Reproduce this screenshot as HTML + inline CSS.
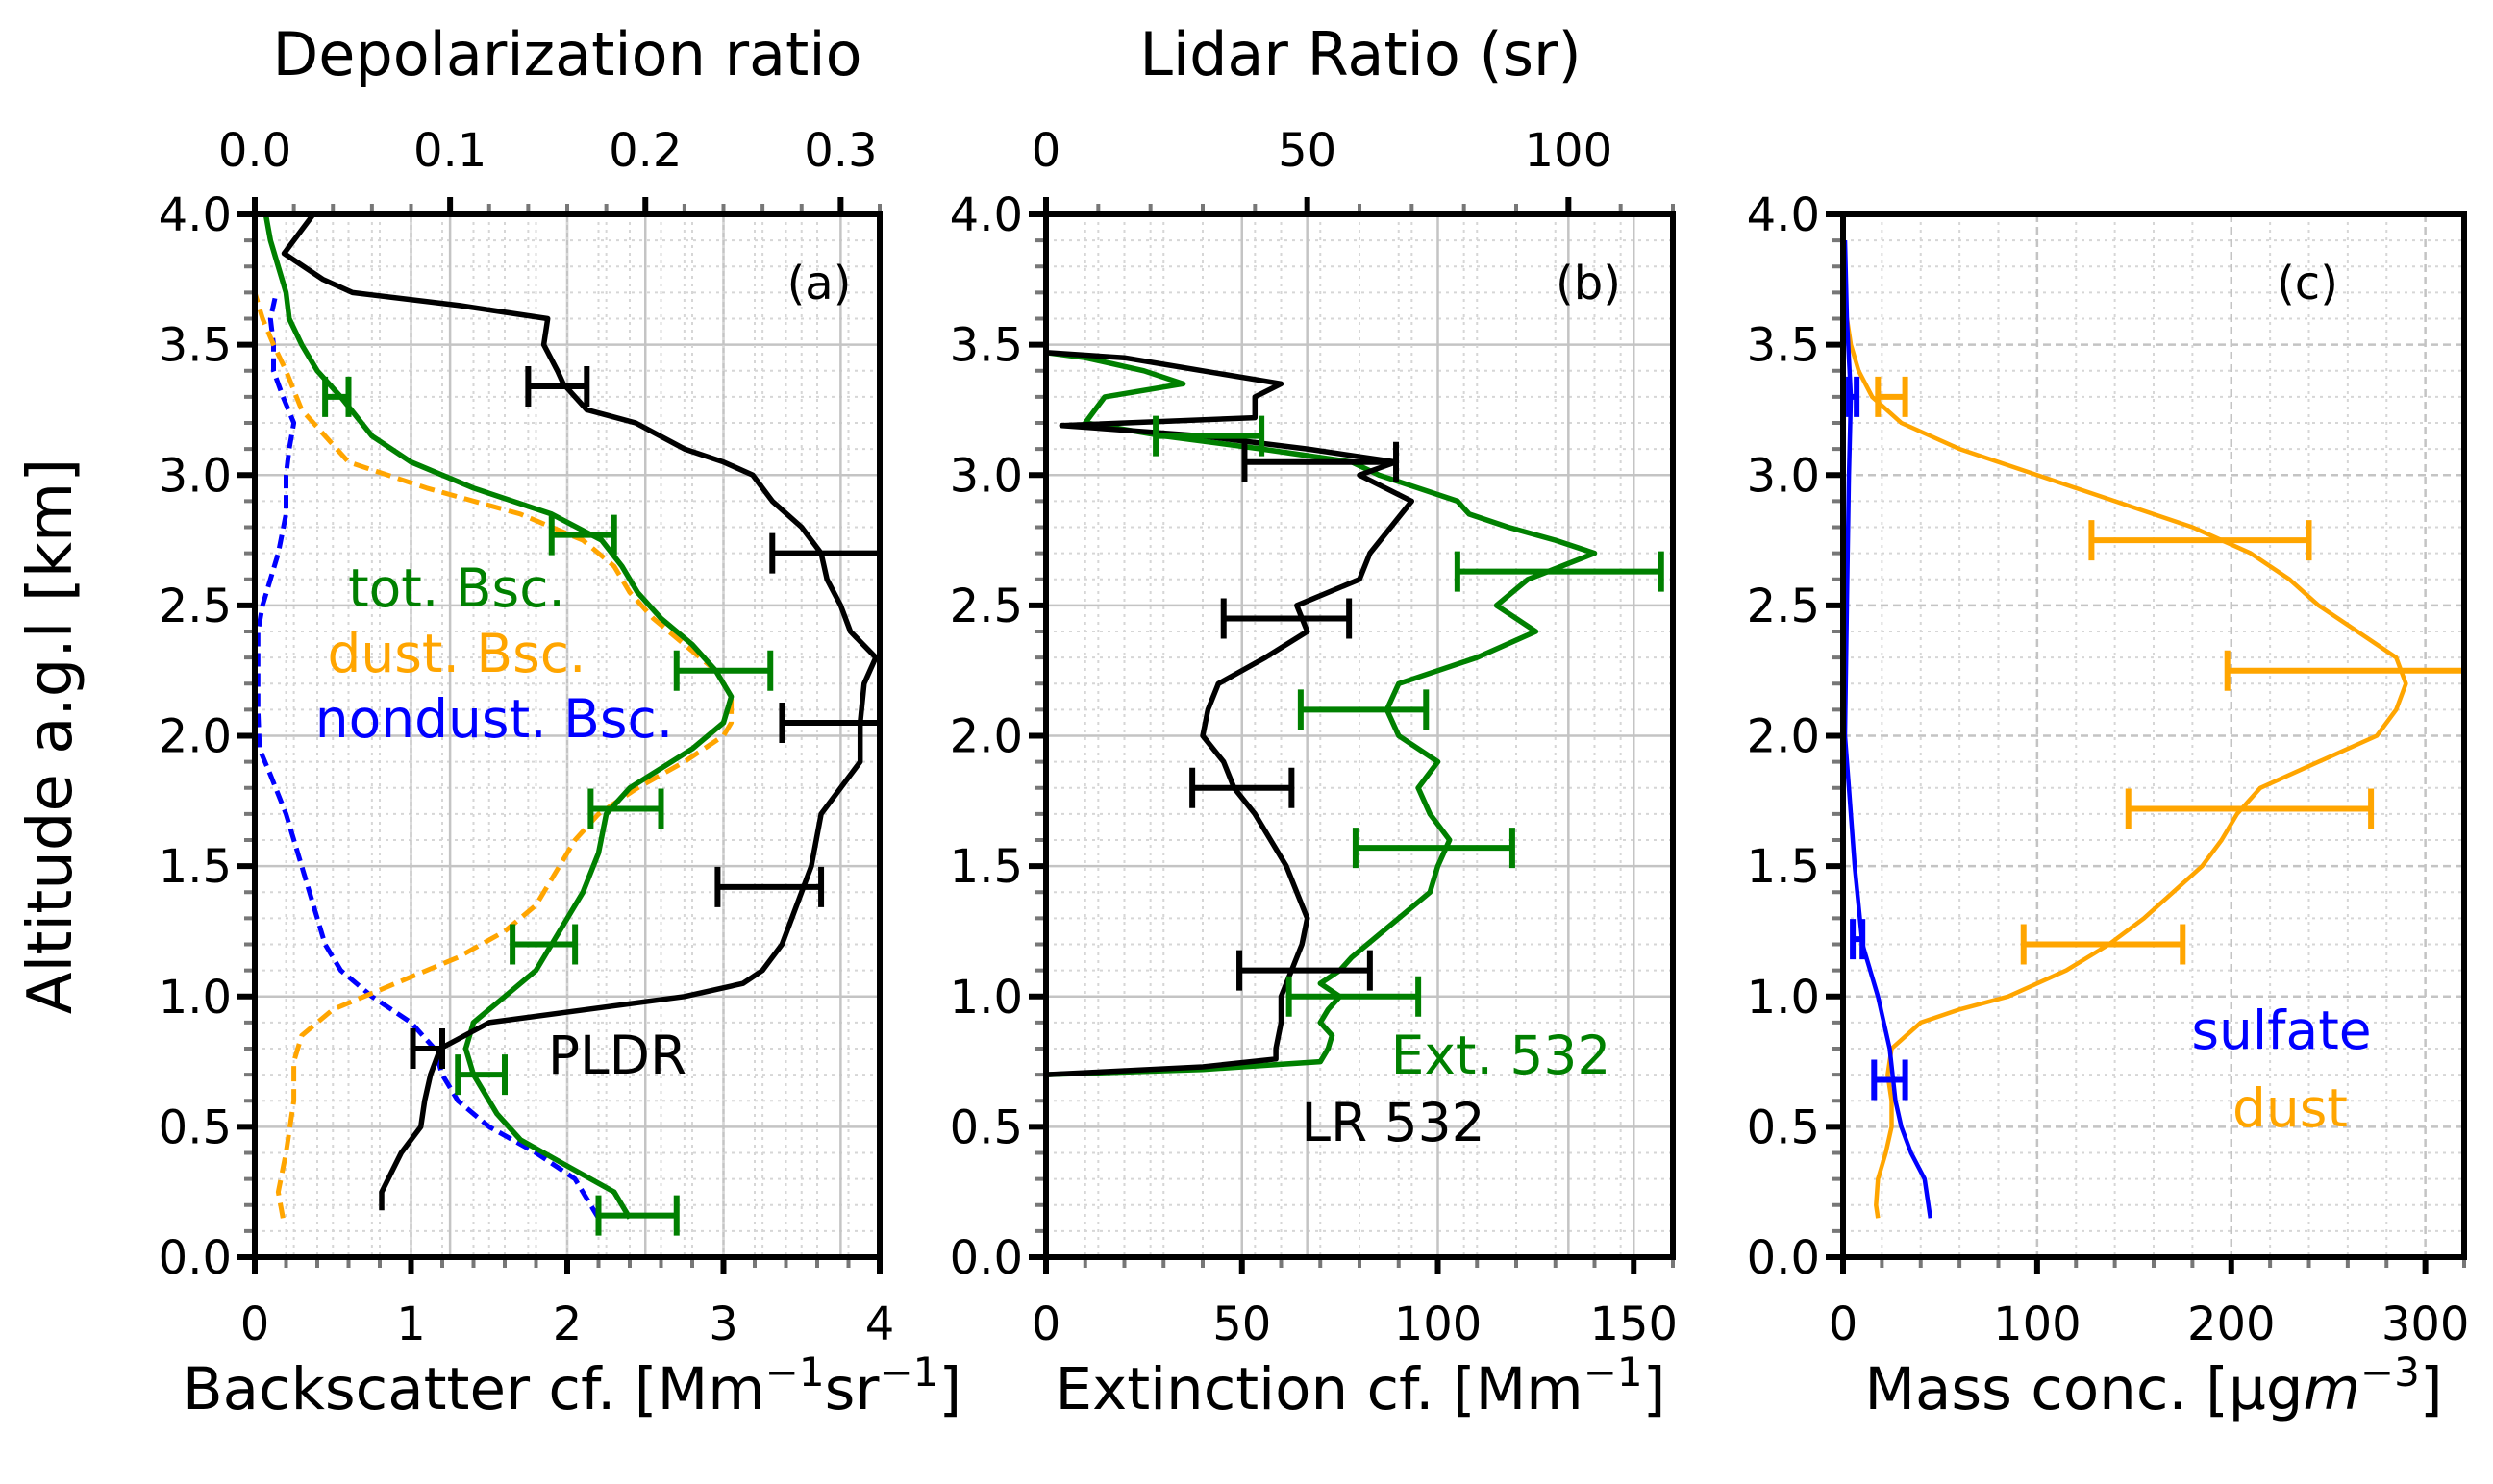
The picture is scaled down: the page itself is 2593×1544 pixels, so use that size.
<!DOCTYPE html>
<html><head><meta charset="utf-8"><style>
html,body{margin:0;padding:0;background:#fff;}
svg{display:block;font-family:"DejaVu Sans","Liberation Sans",sans-serif;}
</style></head><body>
<svg id="fig" width="2593" height="1544" viewBox="0 0 2593 1544" xmlns="http://www.w3.org/2000/svg"></svg>
<script>
// ---------- data (altitude km / value) ----------
const altTot=[0.15,0.25,0.35,0.45,0.55,0.7,0.8,0.9,1.0,1.1,1.2,1.4,1.55,1.7,1.8,1.95,2.05,2.15,2.25,2.35,2.45,2.55,2.65,2.75,2.85,2.95,3.05,3.15,3.3,3.4,3.5,3.6,3.7,3.8,3.9,4.0];
const valTot=[2.4,2.3,2.0,1.7,1.55,1.4,1.35,1.4,1.6,1.8,1.9,2.1,2.2,2.25,2.4,2.8,3.0,3.05,2.95,2.8,2.6,2.45,2.35,2.22,1.9,1.4,1.0,0.75,0.55,0.4,0.3,0.22,0.2,0.15,0.1,0.07];
const altDust=[0.15,0.25,0.4,0.6,0.75,0.85,0.95,1.05,1.15,1.25,1.35,1.5,1.6,1.7,1.8,1.9,2.0,2.05,2.15,2.25,2.35,2.45,2.55,2.65,2.75,2.85,2.95,3.05,3.15,3.25,3.4,3.5,3.6,3.7];
const valDust=[0.18,0.15,0.2,0.25,0.25,0.3,0.5,0.9,1.3,1.6,1.8,1.95,2.05,2.2,2.45,2.75,3.0,3.05,3.05,2.95,2.75,2.55,2.4,2.3,2.1,1.7,1.1,0.6,0.45,0.3,0.2,0.12,0.05,0.0];
const altNon=[0.15,0.3,0.4,0.5,0.6,0.7,0.8,0.9,1.0,1.1,1.2,1.3,1.5,1.7,1.85,1.95,2.1,2.4,2.5,2.7,2.85,3.0,3.1,3.2,3.3,3.4,3.5,3.6,3.68];
const valNon=[2.2,2.05,1.8,1.5,1.3,1.2,1.15,1.0,0.75,0.55,0.45,0.4,0.3,0.2,0.1,0.03,0.02,0.02,0.05,0.15,0.2,0.2,0.22,0.25,0.18,0.12,0.12,0.1,0.13];
const altPLDR=[0.18,0.25,0.4,0.5,0.6,0.7,0.8,0.9,0.95,1.0,1.05,1.1,1.2,1.3,1.5,1.7,1.9,2.05,2.2,2.3,2.4,2.5,2.6,2.7,2.8,2.9,3.0,3.05,3.1,3.2,3.25,3.35,3.4,3.5,3.6,3.65,3.7,3.75,3.85,3.9,4.0];
const valPLDR=[0.065,0.065,0.075,0.085,0.087,0.09,0.095,0.12,0.17,0.22,0.25,0.26,0.27,0.275,0.285,0.29,0.31,0.31,0.312,0.318,0.305,0.3,0.293,0.29,0.28,0.265,0.255,0.24,0.22,0.195,0.17,0.158,0.155,0.148,0.15,0.105,0.05,0.035,0.015,0.02,0.03];
const errTotAlt=[0.16,0.7,1.2,1.72,2.25,2.77,3.3];
const errTotLo=[2.2,1.3,1.65,2.15,2.7,1.9,0.45];
const errTotHi=[2.7,1.6,2.05,2.6,3.3,2.3,0.6];
const errPLDRAlt=[0.8,1.42,2.05,2.7,3.34];
const errPLDRLo=[0.081,0.237,0.27,0.265,0.14];
const errPLDRHi=[0.096,0.29,0.32,0.32,0.17];

const altExt=[0.7,0.72,0.75,0.8,0.85,0.9,0.95,1.0,1.05,1.1,1.15,1.2,1.3,1.4,1.5,1.6,1.7,1.8,1.9,2.0,2.1,2.2,2.3,2.4,2.5,2.6,2.7,2.75,2.8,2.85,2.9,2.95,3.0,3.05,3.1,3.15,3.2,3.3,3.35,3.4,3.45,3.47];
const valExt=[0,40,70,72,73,70,72,75,70,75,78,82,90,98,100,103,98,95,100,90,87,90,110,125,115,123,140,130,118,108,105,95,85,78,55,30,10,15,35,25,10,0];
const altLR=[0.7,0.73,0.76,0.8,0.9,1.0,1.1,1.2,1.3,1.4,1.5,1.6,1.7,1.8,1.9,2.0,2.1,2.2,2.3,2.4,2.5,2.6,2.7,2.8,2.9,3.0,3.05,3.1,3.15,3.19,3.22,3.3,3.35,3.4,3.45,3.47];
const valLR=[0,30,44,44,45,45,47,49,50,48,46,43,40,36,34,30,31,33,42,50,48,60,62,66,70,60,67,50,30,3,40,40,45,30,15,0];
const errExtAlt=[1.0,1.57,2.1,2.63,3.15];
const errExtLo=[62,79,65,105,28];
const errExtHi=[95,119,97,157,55];
const errLRAlt=[1.1,1.8,2.45,3.05];
const errLRLo=[37,28,34,38];
const errLRHi=[62,47,58,67];

const altMDust=[0.15,0.2,0.3,0.4,0.5,0.6,0.7,0.8,0.9,0.95,1.0,1.1,1.2,1.3,1.4,1.5,1.6,1.7,1.8,1.9,2.0,2.1,2.2,2.3,2.4,2.5,2.6,2.7,2.8,2.9,3.0,3.1,3.2,3.3,3.4,3.5,3.6,3.7];
const valMDust=[18,17,18,22,25,25,23,25,40,60,85,115,137,155,170,185,195,203,215,245,275,285,290,285,265,245,230,210,180,140,100,60,30,15,8,4,2,0];
const altSulf=[0.15,0.3,0.4,0.5,0.6,0.8,1.0,1.2,1.5,1.8,2.0,2.5,3.0,3.3,3.6,3.9];
const valSulf=[45,42,35,30,27,24,18,10,6,3,1,2,3,4,2,1];
const errMDustAlt=[1.2,1.72,2.25,2.75,3.3];
const errMDustLo=[93,147,198,128,18];
const errMDustHi=[175,272,320,240,32];
const errSulfAlt=[0.68,1.22,3.3];
const errSulfLo=[16,5,3];
const errSulfHi=[32,10,7];

// ---------- drawing ----------
const NS="http://www.w3.org/2000/svg";
const svg=document.getElementById('fig');
function mk(tag,attrs,name,inter,parent){
  const el=document.createElementNS(NS,tag);
  for(const k in attrs) el.setAttribute(k,attrs[k]);
  
  
  (parent||svg).appendChild(el);
  return el;
}
const YT=223, YB=1308;
const TF=48;
function yS(a){return YB-(a/4)*(YB-YT);}
function lin(d0,d1,p0,p1){return v=>p0+(v-d0)/(d1-d0)*(p1-p0);}

function panel(id,x0,x1,opt){
  const g=mk('g',{},'panel-'+id,false);
  const bx=lin(0,opt.bmax,x0,x1);
  for(let a=0;a<=4.001;a+=0.1){
    const major=Math.abs(a*2-Math.round(a*2))<1e-6;
    mk('line',{x1:x0,x2:x1,y1:yS(a),y2:yS(a),stroke:major?'#c4c4c4':'#d6d6d6','stroke-width':major?2.5:2,'stroke-dasharray':major?(opt.dash?'8,5':''):'3,5'},major?'y-grid-major':'y-grid-minor',false,g);
  }
  const vgrid=(mx,step,mstep,sc)=>{
    for(let v=0;v<=mx+1e-9;v+=mstep){
      const major=Math.abs(v/step-Math.round(v/step))<1e-6;
      mk('line',{x1:sc(v),x2:sc(v),y1:YT,y2:YB,stroke:major?'#c4c4c4':'#d6d6d6','stroke-width':major?2.5:2,'stroke-dasharray':major?(opt.dash?'8,5':''):'3,5'},major?'x-grid-major':'x-grid-minor',false,g);
    }
  };
  vgrid(opt.bmax,opt.bstep,opt.bminor,bx);
  if(opt.tmax){vgrid(opt.tmax,opt.tstep,opt.tminor,lin(0,opt.tmax,x0,x1));}
  for(let a=0;a<=4.001;a+=0.1){
    const major=Math.abs(a*2-Math.round(a*2))<1e-6;
    mk('line',{x1:x0,x2:x0-(major?18:11),y1:yS(a),y2:yS(a),stroke:major?'#000':'#777','stroke-width':major?6:4},major?'y-tick-major':'y-tick-minor',false,g);
    if(major){const t=mk('text',{x:x0-24,y:yS(a)+17,'text-anchor':'end','font-size':TF},'y-tick-label',false,g);t.textContent=a.toFixed(1);}
  }
  for(let v=0;v<=opt.bmax+1e-9;v+=opt.bminor){
    const major=Math.abs(v/opt.bstep-Math.round(v/opt.bstep))<1e-6;
    mk('line',{x1:bx(v),x2:bx(v),y1:YB,y2:YB+(major?18:11),stroke:major?'#000':'#777','stroke-width':major?6:4},major?'x-tick-major':'x-tick-minor',false,g);
    if(major){const t=mk('text',{x:bx(v),y:YB+86,'text-anchor':'middle','font-size':TF},'x-tick-label',false,g);t.textContent=String(Math.round(v));}
  }
  if(opt.tmax){
    const tx=lin(0,opt.tmax,x0,x1);
    for(let v=0;v<=opt.tmax+1e-9;v+=opt.tminor){
      const major=Math.abs(v/opt.tstep-Math.round(v/opt.tstep))<1e-6;
      mk('line',{x1:tx(v),x2:tx(v),y1:YT,y2:YT-(major?18:11),stroke:major?'#000':'#777','stroke-width':major?6:4},major?'top-tick-major':'top-tick-minor',false,g);
      if(major){const t=mk('text',{x:tx(v),y:YT-50,'text-anchor':'middle','font-size':TF},'top-tick-label',false,g);t.textContent=opt.tfmt(v);}
    }
  }
  return {g,bx,tx:opt.tmax?lin(0,opt.tmax,x0,x1):null,x0,x1};
}
function curve(p,alts,vals,sc,color,w,dash,name){
  const d=alts.map((a,i)=>(i?'L':'M')+sc(vals[i]).toFixed(1)+','+yS(a).toFixed(1)).join('');
  const a={d:d,fill:'none',stroke:color,'stroke-width':w,'stroke-linejoin':'round'};
  if(dash)a['stroke-dasharray']=dash;
  mk('path',a,name,false,p.g);
}
function errs(p,alts,lo,hi,sc,color,w,name){
  alts.forEach((a,i)=>{
    const y=yS(a),xa=sc(lo[i]),xb=sc(hi[i]);
    mk('path',{d:`M${xa},${y}L${xb},${y}M${xa},${y-21}L${xa},${y+21}M${xb},${y-21}L${xb},${y+21}`,stroke:color,'stroke-width':w,fill:'none'},name,false,p.g);
  });
}
function frame(p){
  mk('rect',{x:p.x0,y:YT,width:p.x1-p.x0,height:YB-YT,fill:'none',stroke:'#000','stroke-width':6},'axes-frame',false,p.g);
}
function txt(x,y,s,size,color,anchor,name,parent){
  const t=mk('text',{x:x,y:y,'font-size':size,fill:color,'text-anchor':anchor||'middle'},name,false,parent);t.textContent=s;return t;
}

// Panel A
const A=panel('a',265,915,{bmax:4,bstep:1,bminor:0.2,tmax:0.32,tstep:0.1,tminor:0.02,tfmt:v=>v.toFixed(1)});
const Atop=A.tx;
curve(A,altNon,valNon,A.bx,'#0000ff',5,'14,7','nondust-bsc-line');
curve(A,altDust,valDust,A.bx,'#ffa500',5,'16,8','dust-bsc-line');
curve(A,altTot,valTot,A.bx,'#008000',5.5,null,'tot-bsc-line');
curve(A,altPLDR,valPLDR,Atop,'#000',5.5,null,'pldr-line');
errs(A,errTotAlt,errTotLo,errTotHi,A.bx,'#008000',6,'tot-bsc-errorbar');
errs(A,errPLDRAlt,errPLDRLo,errPLDRHi,Atop,'#000',6,'pldr-errorbar');
frame(A);
txt(852,311,'(a)',48,'#000','middle','panel-label-a',A.g);
txt(475,631,'tot. Bsc.',55,'#008000','middle','label-tot-bsc',A.g);
txt(475,699,'dust. Bsc.',55,'#ffa500','middle','label-dust-bsc',A.g);
txt(514,767,'nondust. Bsc.',55,'#0000ff','middle','label-nondust-bsc',A.g);
txt(642,1117,'PLDR',55,'#000','middle','label-pldr',A.g);

// Panel B
const B=panel('b',1088,1740,{bmax:160,bstep:50,bminor:10,tmax:120,tstep:50,tminor:10,tfmt:v=>String(v)});
curve(B,altExt,valExt,B.bx,'#008000',5.5,null,'ext-532-line');
curve(B,altLR,valLR,B.tx,'#000',5.5,null,'lr-532-line');
errs(B,errExtAlt,errExtLo,errExtHi,B.bx,'#008000',6,'ext-errorbar');
errs(B,errLRAlt,errLRLo,errLRHi,B.tx,'#000',6,'lr-errorbar');
frame(B);
txt(1652,311,'(b)',48,'#000','middle','panel-label-b',B.g);
txt(1561,1117,'Ext. 532',55,'#008000','middle','label-ext-532',B.g);
txt(1449,1187,'LR 532',55,'#000','middle','label-lr-532',B.g);

// Panel C
const C=panel('c',1917,2563,{bmax:320,bstep:100,bminor:20,dash:true});
curve(C,altMDust,valMDust,C.bx,'#ffa500',4.5,null,'dust-mass-line');
curve(C,altSulf,valSulf,C.bx,'#0000ff',4.5,null,'sulfate-mass-line');
errs(C,errMDustAlt,errMDustLo,errMDustHi,C.bx,'#ffa500',6,'dust-mass-errorbar');
errs(C,errSulfAlt,errSulfLo,errSulfHi,C.bx,'#0000ff',6,'sulfate-mass-errorbar');
frame(C);
txt(2400,311,'(c)',48,'#000','middle','panel-label-c',C.g);
txt(2373,1091,'sulfate',55,'#0000ff','middle','label-sulfate',C.g);
txt(2382,1172,'dust',55,'#ffa500','middle','label-dust',C.g);

// axis titles
txt(590,78,'Depolarization ratio',62,'#000','middle','top-axis-title-depol');
txt(1415,78,'Lidar Ratio (sr)',62,'#000','middle','top-axis-title-lidar-ratio');
const yl=mk('text',{x:0,y:0,'font-size':64,'text-anchor':'middle',transform:'translate(74,766) rotate(-90)'},'y-axis-title',false);
yl.textContent='Altitude a.g.l [km]';
const t1=mk('text',{x:595,y:1466,'font-size':61,'text-anchor':'middle'},'x-axis-title-backscatter',false);
t1.innerHTML='Backscatter cf. [Mm<tspan dy="-24" font-size="42">−1</tspan><tspan dy="24">sr</tspan><tspan dy="-24" font-size="42">−1</tspan><tspan dy="24">]</tspan>';
const t2=mk('text',{x:1415,y:1466,'font-size':61,'text-anchor':'middle'},'x-axis-title-extinction',false);
t2.innerHTML='Extinction cf. [Mm<tspan dy="-24" font-size="42">−1</tspan><tspan dy="24">]</tspan>';
const t3=mk('text',{x:2240,y:1466,'font-size':61,'text-anchor':'middle'},'x-axis-title-mass',false);
t3.innerHTML='Mass conc. [µg<tspan font-style="italic">m</tspan><tspan dy="-24" font-size="42">−3</tspan><tspan dy="24">]</tspan>';
</script>
</body></html>
